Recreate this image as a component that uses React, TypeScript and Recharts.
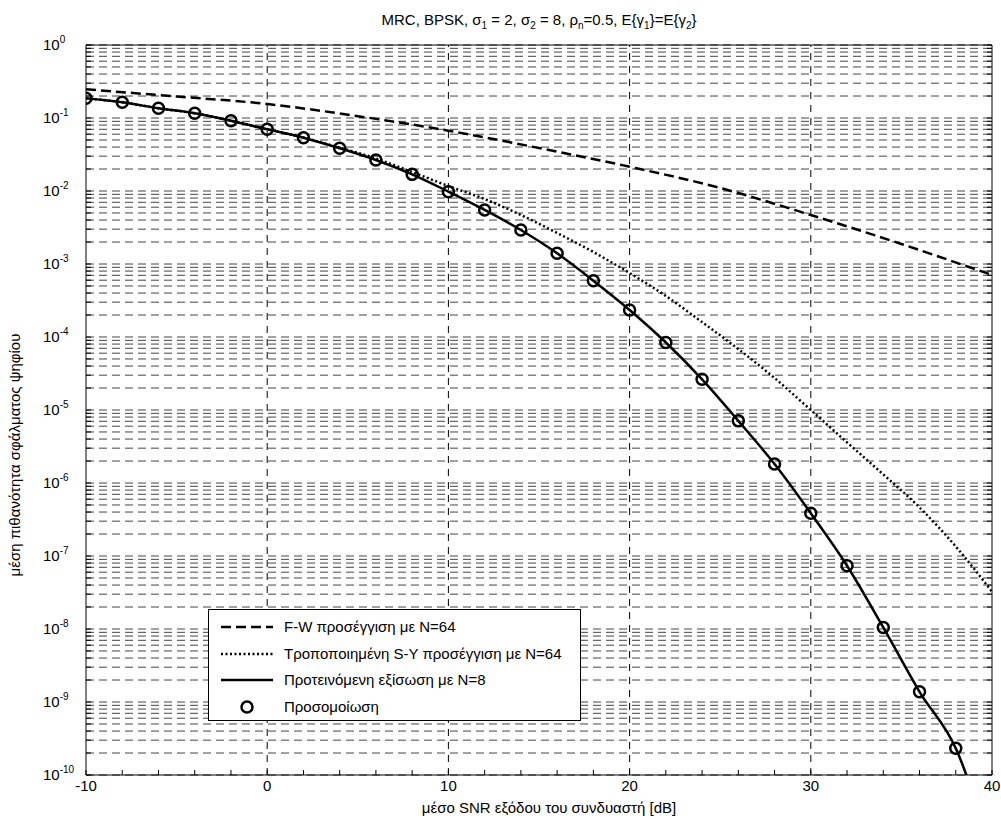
import React from 'react'
import {
  CartesianGrid,
  ComposedChart,
  Label,
  Legend,
  Line,
  ReferenceLine,
  Scatter,
  XAxis,
  YAxis,
} from 'recharts'

// F-W approximation, N=64 (dashed)
const snrFW = [-10, -5, 0, 5, 10, 15, 20, 25, 30, 35, 40]
const berFW = [0.247, 0.197, 0.1555, 0.106, 0.067, 0.0388, 0.0215, 0.011, 0.00469, 0.00188, 7.07e-4]

// modified S-Y approximation, N=64 (dotted)
const snrSY = [-10, -8, -6, -4, -2, 0, 2, 4, 6, 8, 10, 12, 14, 16, 18, 20, 22, 24, 26, 28, 30, 32, 34, 36, 38, 40]
const berSY = [
  0.186, 0.164, 0.136, 0.116, 0.0919, 0.07, 0.054, 0.0392, 0.0279, 0.0182, 0.0117, 0.00776, 0.00469,
  0.00266, 0.00146, 7.53e-4, 3.65e-4, 1.6e-4, 6.85e-5, 2.74e-5, 1.0e-5, 3.6e-6, 1.31e-6, 4.63e-7, 1.35e-7,
  3.24e-8,
]

// proposed expression, N=8 (solid)
const snrProp = [-10, -8, -6, -4, -2, 0, 2, 4, 6, 8, 10, 12, 14, 16, 18, 20, 22, 24, 26, 28, 30, 32, 34, 36, 38, 40]
const berProp = [
  0.186, 0.164, 0.136, 0.116, 0.0919, 0.07, 0.0537, 0.0385, 0.0266, 0.0169, 0.0098, 0.0055, 0.00292, 0.0014,
  5.9e-4, 2.34e-4, 8.4e-5, 2.63e-5, 7.1e-6, 1.82e-6, 3.85e-7, 7.36e-8, 1.05e-8, 1.38e-9, 2.32e-10, 8.9e-12,
]

// simulation (circles)
const snrSim = [-10, -8, -6, -4, -2, 0, 2, 4, 6, 8, 10, 12, 14, 16, 18, 20, 22, 24, 26, 28, 30, 32, 34, 36, 38]
const berSim = [
  0.186, 0.164, 0.136, 0.116, 0.0919, 0.07, 0.0537, 0.0385, 0.0266, 0.0169, 0.0098, 0.0055, 0.00292, 0.0014,
  5.9e-4, 2.34e-4, 8.4e-5, 2.63e-5, 7.1e-6, 1.82e-6, 3.85e-7, 7.36e-8, 1.05e-8, 1.38e-9, 2.32e-10,
]

const xTicks = [-10, -8, -6, -4, -2, 0, 2, 4, 6, 8, 10, 12, 14, 16, 18, 20, 22, 24, 26, 28, 30, 32, 34, 36, 38, 40]
const xGrid = [0, 10, 20, 30]
const decades = [1e-10, 1e-9, 1e-8, 1e-7, 1e-6, 1e-5, 1e-4, 1e-3, 1e-2, 1e-1, 1]
const yTicks = decades.flatMap((d, i) =>
  i === decades.length - 1 ? [d] : [1, 2, 3, 4, 5, 6, 7, 8, 9].map((m) => m * d),
)

const legendItems = [
  { name: 'F-W προσέγγιση με N=64', dash: '10 5', marker: false },
  { name: 'Τροποποιημένη S-Y προσέγγιση με N=64', dash: '2 2.5', marker: false },
  { name: 'Προτεινόμενη εξίσωση με N=8', dash: undefined, marker: false },
  { name: 'Προσομοίωση', dash: undefined, marker: true },
]

const toPoints = (xs: number[], ys: number[]) => xs.map((x, i) => ({ x, y: ys[i] }))

const FONT = "'Liberation Sans', Arial, Helvetica, sans-serif"

const isDecade = (v: number) => Math.abs(Math.log10(v) - Math.round(Math.log10(v))) < 1e-6

// tickSize=0 and tickMargin=0, so (x, y) is the point on the axis line
const BottomTick = ({ x, y, payload }: any) => (
  <g>
    <line x1={x} x2={x} y1={y} y2={y - 5} stroke="#000" />
    {payload.value % 10 === 0 && (
      <text x={x} y={y + 16} textAnchor="middle" fontSize={15} fontFamily={FONT} fill="#000">
        {payload.value}
      </text>
    )}
  </g>
)

const TopTick = ({ x, y }: any) => <line x1={x} x2={x} y1={y} y2={y + 5} stroke="#000" />

const LeftTick = ({ x, y, payload }: any) => {
  const v = payload.value
  return (
    <g>
      <line x1={x} x2={x + 5} y1={y} y2={y} stroke="#000" />
      {isDecade(v) && (
        <text x={x - 43} y={y + 5} fontSize={15} fontFamily={FONT} fill="#000">
          10
          <tspan dy={-7} fontSize={10}>
            {Math.round(Math.log10(v))}
          </tspan>
        </text>
      )}
    </g>
  )
}

const RightTick = ({ x, y }: any) => <line x1={x} x2={x - 5} y1={y} y2={y} stroke="#000" />

const Title = ({ viewBox }: any) => {
  const cx = viewBox.x + viewBox.width / 2
  const base = viewBox.y + viewBox.height - 20
  const sub = (t: string) => (
    <tspan dy={4} fontSize={10}>
      {t}
    </tspan>
  )
  return (
    <text x={cx} y={base} textAnchor="middle" fontSize={15} fontFamily={FONT} fill="#000">
      MRC, BPSK, σ{sub('1')}
      <tspan dy={-4}> = 2, σ</tspan>
      {sub('2')}
      <tspan dy={-4}> = 8, ρ</tspan>
      {sub('n')}
      <tspan dy={-4}>=0.5, E{'{'}γ</tspan>
      {sub('1')}
      <tspan dy={-4}>{'}'}=E{'{'}γ</tspan>
      {sub('2')}
      <tspan dy={-4}>{'}'}</tspan>
    </text>
  )
}

const XTitle = ({ viewBox }: any) => (
  <text
    x={viewBox.x + viewBox.width / 2 + 10}
    y={viewBox.y + 38}
    textAnchor="middle"
    fontSize={15}
    fontFamily={FONT}
    fill="#000"
  >
    μέσο SNR εξόδου του συνδυαστή [dB]
  </text>
)

const YTitle = ({ viewBox }: any) => {
  const cx = viewBox.x + viewBox.width - 66
  const cy = viewBox.y + viewBox.height / 2 + 45
  return (
    <text
      x={cx}
      y={cy}
      transform={`rotate(-90 ${cx} ${cy})`}
      textAnchor="middle"
      fontSize={15}
      fontFamily={FONT}
      fill="#000"
    >
      μέση πιθανότητα σφάλματος ψηφίου
    </text>
  )
}

const LegendBox = () => (
  <div
    style={{
      width: 371,
      height: 110,
      border: '1px solid #000',
      background: '#fff',
      fontFamily: FONT,
      fontSize: 15,
      position: 'relative',
    }}
  >
    {legendItems.map((item, i) => (
      <div key={item.name} style={{ position: 'absolute', left: 0, top: 6 + i * 26.5, height: 22, width: '100%' }}>
        <svg width={70} height={22} style={{ position: 'absolute', left: 0, top: 0 }}>
          {item.marker ? (
            <circle cx={38} cy={11} r={5.5} fill="none" stroke="#000" strokeWidth={2.5} />
          ) : (
            <line x1={12} x2={64} y1={11} y2={11} stroke="#000" strokeWidth={2.5} strokeDasharray={item.dash} />
          )}
        </svg>
        <span style={{ position: 'absolute', left: 75, top: 2, whiteSpace: 'nowrap' }}>{item.name}</span>
      </div>
    ))}
  </div>
)

const Circle = ({ cx, cy }: any) => <circle cx={cx} cy={cy} r={5.5} fill="none" stroke="#000" strokeWidth={2.5} />

export default function App() {
  return (
    <div style={{ position: 'absolute', left: 0, top: 0, width: 1001, height: 819, background: '#fff' }}>
      <ComposedChart width={1001} height={819} margin={{ top: 44, right: 8, bottom: 14, left: 26 }}>
        <CartesianGrid vertical={false} stroke="#444" strokeDasharray="8 5" />
        {xGrid.map((x) => (
          <ReferenceLine key={x} x={x} stroke="#000" strokeDasharray="7 6" />
        ))}
        <XAxis
          dataKey="x"
          type="number"
          domain={[-10, 40]}
          allowDataOverflow
          ticks={xTicks}
          interval={0}
          height={30}
          tickSize={0}
          tickMargin={0}
          tickLine={false}
          tick={BottomTick}
          axisLine={{ stroke: '#000' }}
        >
          <Label content={XTitle} />
        </XAxis>
        <XAxis
          xAxisId="top"
          orientation="top"
          type="number"
          domain={[-10, 40]}
          allowDataOverflow
          ticks={xTicks}
          interval={0}
          height={1}
          tickSize={0}
          tickMargin={0}
          tickLine={false}
          tick={TopTick}
          axisLine={{ stroke: '#000' }}
        >
          <Label content={Title} />
        </XAxis>
        <YAxis
          dataKey="y"
          type="number"
          scale="log"
          domain={[1e-10, 1]}
          allowDataOverflow
          ticks={yTicks}
          interval={0}
          width={60}
          tickSize={0}
          tickMargin={0}
          tickLine={false}
          tick={LeftTick}
          axisLine={{ stroke: '#000' }}
        >
          <Label content={YTitle} />
        </YAxis>
        <YAxis
          yAxisId="r"
          orientation="right"
          type="number"
          scale="log"
          domain={[1e-10, 1]}
          allowDataOverflow
          ticks={yTicks}
          interval={0}
          width={1}
          tickSize={0}
          tickMargin={0}
          tickLine={false}
          tick={RightTick}
          axisLine={{ stroke: '#000' }}
        />
        <Line
          data={toPoints(snrFW, berFW)}
          dataKey="y"
          name={legendItems[0].name}
          type="monotone"
          stroke="#000"
          strokeWidth={2.5}
          strokeDasharray="10 5"
          dot={false}
          isAnimationActive={false}
        />
        <Line
          data={toPoints(snrSY, berSY)}
          dataKey="y"
          name={legendItems[1].name}
          type="monotone"
          stroke="#000"
          strokeWidth={2.5}
          strokeDasharray="2 2.5"
          dot={false}
          isAnimationActive={false}
        />
        <Line
          data={toPoints(snrProp, berProp)}
          dataKey="y"
          name={legendItems[2].name}
          type="monotone"
          stroke="#000"
          strokeWidth={2.5}
          dot={false}
          isAnimationActive={false}
        />
        <Scatter
          data={toPoints(snrSim, berSim)}
          dataKey="y"
          name={legendItems[3].name}
          shape={Circle}
          isAnimationActive={false}
        />
        <Legend
          layout="vertical"
          align="center"
          verticalAlign="middle"
          content={LegendBox}
          wrapperStyle={{ left: 208, top: 609, width: 373, height: 112 }}
        />
      </ComposedChart>
    </div>
  )
}
